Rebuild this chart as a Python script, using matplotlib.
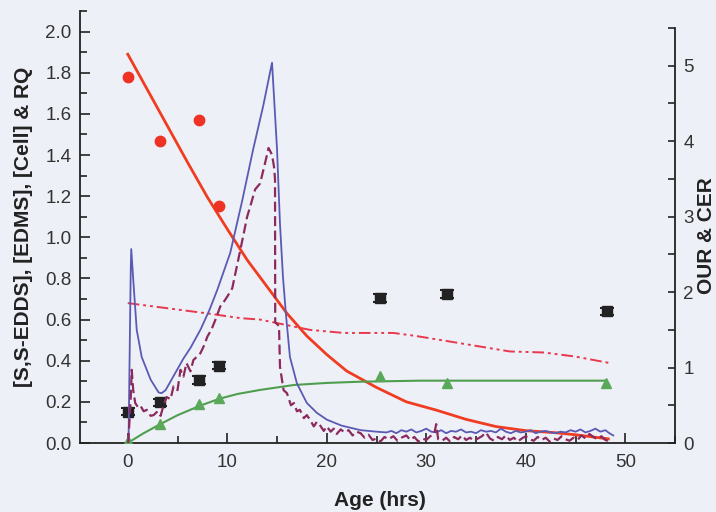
import matplotlib
matplotlib.use("Agg")
import matplotlib.pyplot as plt
from matplotlib.ticker import MultipleLocator

plt.rcParams["font.family"] = ["Liberation Sans", "DejaVu Sans"]

BG = "#eef0f7"
TXT = "#333333"

# ---- left axis: [S,S-EDDS], [EDMS], [Cell] & RQ ----
sample_t = [0, 3.2, 7.2, 9.2]
edds_meas = [1.78, 1.47, 1.57, 1.15]

edds_fit_t = [0, 2, 4, 6, 8, 10, 12, 14, 16, 18, 20, 22, 25, 28, 31, 34, 37, 40, 43, 45, 48.3]
edds_fit = [1.89, 1.715, 1.54, 1.365, 1.195, 1.04, 0.89, 0.76, 0.63, 0.52, 0.43, 0.35, 0.27,
            0.20, 0.16, 0.115, 0.08, 0.06, 0.05, 0.04, 0.02]

edms_t = [0, 3.2, 7.2, 9.2, 25.4, 32.1, 48.2]
edms = [0.152, 0.198, 0.307, 0.376, 0.704, 0.724, 0.64]
edms_err = [0.018, 0.018, 0.018, 0.018, 0.018, 0.018, 0.018]

cell_t = [0, 3.2, 7.2, 9.2, 25.4, 32.1, 48.1]
cell = [0.01, 0.091, 0.188, 0.217, 0.326, 0.29, 0.293]
cell_fit_t = [0, 1.5, 3.2, 5, 7.2, 9.2, 11, 13.3, 16.7, 20, 23.4, 29.4, 35, 48.1]
cell_fit = [0, 0.045, 0.09, 0.135, 0.18, 0.215, 0.238, 0.258, 0.282, 0.292, 0.298, 0.303, 0.303, 0.303]

rq_t = [0, 4, 8, 11.3, 13.3, 15.3, 18.3, 21.7, 26.7, 29, 33.4, 38.4, 41.8, 45, 48.3]
rq = [0.68, 0.655, 0.63, 0.607, 0.60, 0.58, 0.55, 0.535, 0.535, 0.52, 0.485, 0.445, 0.44, 0.42, 0.39]

# ---- right axis: OUR & CER ----
our_t = [0, 0.08, 0.3, 0.35, 0.6, 0.9, 1.4, 2.3, 3.1, 3.4, 3.8, 4.4, 5.0, 5.6, 6.3, 7.3, 8.2,
         9.0, 10.3, 11.5, 12.6, 13.6, 14.5, 15.0, 15.3, 15.6, 15.9, 16.3, 17.0, 18.0, 19.0,
         20.0, 21.5, 23.4, 25, 26, 26.5, 27, 27.5, 28, 28.5, 29, 29.5, 30, 30.5, 31, 31.5, 32,
         32.5, 33, 33.5, 34, 34.5, 35, 35.5, 36, 36.5, 37, 37.5, 38, 38.5, 39, 39.5, 40, 40.5,
         41, 41.5, 42, 42.5, 43, 43.5, 44, 44.5, 45, 45.5, 46, 46.5, 47, 47.5, 48, 48.4, 48.8]
our = [0, 0.05, 2.3, 2.57, 2.07, 1.50, 1.14, 0.84, 0.67, 0.66, 0.70, 0.84, 0.98, 1.12, 1.26,
       1.50, 1.76, 2.03, 2.52, 3.21, 3.89, 4.46, 5.04, 3.9, 2.9, 2.2, 1.7, 1.14, 0.79, 0.53,
       0.40, 0.31, 0.23, 0.17, 0.15, 0.14, 0.16, 0.13, 0.17, 0.15, 0.18, 0.14, 0.16, 0.19,
       0.15, 0.14, 0.17, 0.13, 0.16, 0.15, 0.18, 0.14, 0.15, 0.13, 0.17, 0.15, 0.16, 0.14,
       0.19, 0.15, 0.13, 0.16, 0.14, 0.15, 0.17, 0.13, 0.15, 0.16, 0.14, 0.13, 0.15, 0.14,
       0.17, 0.15, 0.18, 0.14, 0.16, 0.19, 0.15, 0.17, 0.13, 0.10]

cer_t = [0.05, 0.3, 0.4, 0.55, 0.75, 1.0, 1.25, 1.6, 1.9, 2.3, 2.6, 3.0, 3.3, 3.6, 3.9, 4.3,
         4.6, 5.0, 5.3, 5.6, 5.9, 6.3, 6.6, 7.0, 7.3, 7.7, 8.0, 8.4, 8.8, 9.3, 9.7, 10.0, 10.5,
         10.9, 11.3, 11.6, 12.0, 12.3, 12.8, 13.3, 13.8, 14.15, 14.5, 14.7, 14.8, 14.82, 15.2,
         15.3, 15.66, 16.0, 16.4, 16.7, 17.0, 17.3, 17.7, 18.0, 18.3, 18.7, 19.0, 19.3, 19.7,
         20.0, 20.4, 20.7, 21.0, 21.4, 21.8, 22.2, 22.6, 23.0, 23.4, 23.8, 24.2, 24.6, 25.0,
         25.4, 25.8, 26.2, 26.7, 27.1, 27.5, 28.0, 28.4, 28.8, 29.2, 29.6, 30.0, 30.4, 30.8,
         31.0, 31.2, 31.6, 32.0, 32.4, 32.8, 33.2, 33.6, 34.0, 34.4, 34.8, 35.2, 35.6, 36.0,
         36.4, 36.8, 37.2, 37.6, 38.0, 38.4, 38.8, 39.2, 39.6, 40.0, 40.4, 40.8, 41.2, 41.6,
         42.0, 42.4, 42.8, 43.2, 43.6, 44.0, 44.4, 44.8, 45.2, 45.6, 46.0, 46.4, 46.8, 47.2,
         47.6, 48.0, 48.4]
cer = [0.0, 0.6, 0.97, 0.70, 0.53, 0.48, 0.50, 0.42, 0.44, 0.36, 0.37, 0.42, 0.36, 0.50, 0.61,
       0.58, 0.75, 0.70, 0.97, 0.88, 1.06, 0.95, 1.10, 1.15, 1.19, 1.30, 1.41, 1.50, 1.63, 1.81,
       1.88, 1.94, 2.05, 2.30, 2.55, 2.74, 3.0, 3.13, 3.36, 3.44, 3.71, 3.91, 3.82, 3.66, 3.5,
       1.6, 1.55, 1.01, 0.70, 0.66, 0.50, 0.53, 0.42, 0.44, 0.33, 0.37, 0.31, 0.22, 0.28, 0.24,
       0.16, 0.22, 0.15, 0.19, 0.12, 0.18, 0.14, 0.17, 0.10, 0.15, 0.13, 0.07, 0.11, 0.04, 0.06,
       0.02, 0.08, 0.05, 0.09, 0.03, 0.07, 0.10, 0.04, 0.08, 0.02, 0.06, 0.04, 0.09, 0.12, 0.25,
       0.05, 0.03, 0.07, 0.02, 0.08, 0.05, 0.10, 0.04, 0.07, 0.03, 0.06, 0.09, 0.14, 0.06, 0.03,
       0.08, 0.05, 0.10, 0.04, 0.07, 0.02, 0.06, 0.09, 0.05, 0.03, 0.08, 0.04, 0.07, 0.02, 0.06,
       0.04, 0.09, 0.05, 0.03, 0.07, 0.04, 0.10, 0.06, 0.12, 0.08, 0.05, 0.09, 0.04, 0.02]

fig = plt.figure(figsize=(7.16, 5.12), dpi=100, facecolor=BG)
box = [80 / 716, 1 - 443 / 512, 595 / 716, 432 / 512]
ax = fig.add_axes(box)
ax.set_facecolor(BG)

# right axis is its own layer, a bit shorter than the left one
ax2 = fig.add_axes([box[0], box[1], box[2], 415 / 512], sharex=ax)
ax2.patch.set_visible(False)

ax2.plot(our_t, our, color="#5a5ab4", lw=1.3, zorder=3)
ax2.plot(cer_t, cer, color="#8c2a5e", lw=1.6, dashes=(4.5, 2), zorder=3)

ax.plot(edds_fit_t, edds_fit, color="#f03c20", lw=2, zorder=4)
ax.plot(rq_t, rq, color="#e8384c", lw=1.4, dashes=(6, 2, 1.5, 2, 1.5, 2), zorder=4)
ax.plot(cell_fit_t, cell_fit, color="#4f9e4f", lw=1.5, zorder=4)
ax.plot(cell_t, cell, "^", color="#5aa85a", ms=7, zorder=5)
ax.errorbar(edms_t, edms, yerr=edms_err, fmt="s", color="#222222", ms=6.5,
            capsize=5, elinewidth=1.2, capthick=1.5, zorder=5)
ax.plot(sample_t, edds_meas, "o", color="#ee3324", ms=7.5, zorder=6)

ax.set_xlim(-4.8, 55)
ax.set_ylim(0, 2.1)
ax2.set_ylim(0, 5.5)

for s in ["top", "right"]:
    ax.spines[s].set_visible(False)
for s in ["top", "left", "bottom"]:
    ax2.spines[s].set_visible(False)
for sp in list(ax.spines.values()) + list(ax2.spines.values()):
    sp.set_color("#222222")
    sp.set_linewidth(1.3)

ax.xaxis.set_major_locator(MultipleLocator(10))
ax.xaxis.set_minor_locator(MultipleLocator(5))
ax.yaxis.set_major_locator(MultipleLocator(0.2))
ax.yaxis.set_minor_locator(MultipleLocator(0.1))
ax2.yaxis.set_major_locator(MultipleLocator(1))
ax2.yaxis.set_minor_locator(MultipleLocator(0.5))
ax.yaxis.set_major_formatter(plt.FormatStrFormatter("%.1f"))

ax.tick_params(axis="both", which="both", direction="in", top=False, right=False,
               colors="#222222", labelcolor=TXT, labelsize=13.5, width=1.2)
ax.tick_params(axis="both", which="major", length=7)
ax.tick_params(axis="both", which="minor", length=5)
ax.tick_params(axis="x", pad=8)
ax.tick_params(axis="y", pad=6)
ax2.tick_params(axis="y", which="both", direction="in", left=False, right=True,
                labelleft=False, labelright=True, colors="#222222", labelcolor=TXT,
                labelsize=13.5, width=1.2, length=5, pad=6)
ax2.tick_params(axis="x", which="both", bottom=False, labelbottom=False)

ax.set_xlabel("Age (hrs)", fontsize=15, fontweight="bold", color="#222222")
ax.set_ylabel("[S,S-EDDS], [EDMS], [Cell] & RQ", fontsize=15, fontweight="bold", color="#222222")
ax2.set_ylabel("OUR & CER", fontsize=15, fontweight="bold", color="#222222")
ax2.yaxis.set_label_position("right")
ax.xaxis.set_label_coords(0.504, -0.111)
ax.yaxis.set_label_coords(-0.079, 0.5)
ax2.yaxis.set_label_coords(1.037, 0.5)

fig.savefig("out.png", dpi=100, facecolor=BG)
